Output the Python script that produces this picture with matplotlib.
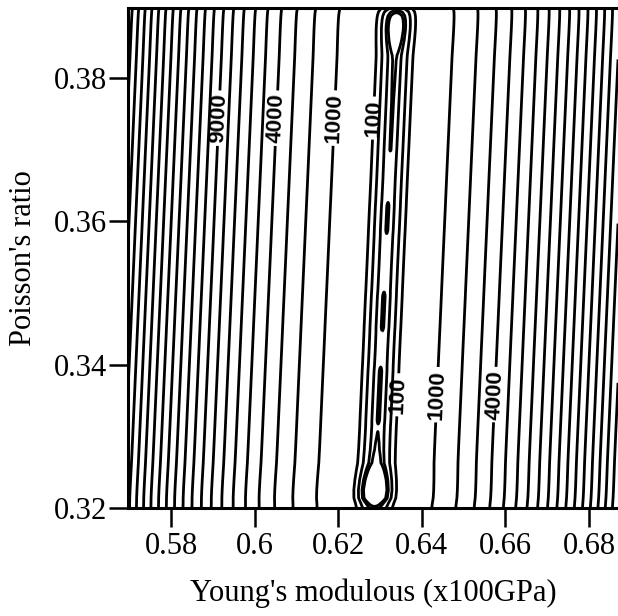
"""Contour map of the fitting error over Young's modulus and Poisson's ratio."""

# Section: Imports.
import numpy as np
import matplotlib
matplotlib.use("Agg")
import matplotlib.pyplot as plt


# Section: Values.
# Valley (minimum) position of the error surface at the bottom and top of the plot.
VALLEY_NU = [0.32, 0.39]
VALLEY_E = [0.62866, 0.63402]

# Error level along the valley floor (closed loops where it dips under 10).
FLOOR_NU = [0.32000, 0.32070, 0.32140, 0.32251, 0.32391, 0.32530, 0.32628, 0.32809,
            0.32991, 0.33144, 0.33228, 0.33912, 0.33995, 0.34200, 0.34442, 0.34526,
            0.34958, 0.35042, 0.35400, 0.35795, 0.35879, 0.36214, 0.36298, 0.36600,
            0.36967, 0.36995, 0.37693, 0.38251, 0.38321, 0.38391, 0.38530, 0.38670,
            0.38740, 0.38809, 0.38865, 0.38921, 0.38977]
FLOOR_ERR = [15, 0, -20, -25, -18, -5, 5, 8.5,
             9.8, 10.2, 9.6, 9.6, 10.2, 10.5, 10.2, 9.6,
             9.6, 10.2, 10.5, 10.2, 9.7, 9.7, 10.2, 10.5,
             10.1, 9.9, 9.75, 9.2, 8.5, 6, 0, -4,
             -4, -2, 2, 12, 40]

# Curvature of the error across the valley (per unit E squared) and its softening near the floor.
CURVATURE = 5.24e6
SOFTENING = 0.18
SOFT_WIDTH = 0.006

PLAIN_LEVELS = [10, 20, 50, 2000, 3000, 5000, 6000, 7000, 8000,
                10000, 11000, 12000, 13000, 14000, 15000, 16000, 17000,
                18000, 19000, 20000, 21000, 22000]
LABEL_LEVELS = [100, 1000, 4000, 9000]

X_TICKS = [0.58, 0.60, 0.62, 0.64, 0.66, 0.68]
X_TICK_LABELS = ["0.58", "0.6", "0.62", "0.64", "0.66", "0.68"]
Y_TICKS = [0.32, 0.34, 0.36, 0.38]
Y_TICK_LABELS = ["0.32", "0.34", "0.36", "0.38"]

X_LIMITS = (0.56971, 0.68694)
Y_LIMITS = (0.32, 0.38977)


# Section: Build the error surface on a fine grid.
def build_surface():
    e = np.linspace(X_LIMITS[0], X_LIMITS[1], 2000)
    nu = np.linspace(Y_LIMITS[0], Y_LIMITS[1], 1000)
    ee, nn = np.meshgrid(e, nu)
    centre = np.interp(nn, VALLEY_NU, VALLEY_E)
    floor = np.interp(nn, FLOOR_NU, FLOOR_ERR)
    d = ee - centre
    err = floor + CURVATURE * d ** 2 * (1 - SOFTENING * np.exp(-(d / SOFT_WIDTH) ** 2))
    return ee, nn, err


# Section: Draw the contour chart.
def main() -> None:
    plt.rcParams["font.family"] = ["Liberation Serif", "DejaVu Serif"]
    fig = plt.figure(figsize=(6.18, 6.16), dpi=100)
    ax = fig.add_axes([128 / 618, 1 - 508 / 616, 490 / 618, 500 / 616])

    ee, nn, err = build_surface()
    ax.contour(ee, nn, err, levels=PLAIN_LEVELS, colors="black", linewidths=2.0)
    cs = ax.contour(ee, nn, err, levels=LABEL_LEVELS, colors="black", linewidths=2.0)

    # label positions (E, nu)
    label_spots = [(0.59124, 0.3744), (0.60488, 0.3744), (0.61923, 0.3744), (0.62880, 0.3744),
                   (0.63407, 0.3358), (0.64388, 0.3358), (0.65847, 0.3358)]
    with plt.rc_context({"font.family": ["Liberation Sans", "DejaVu Sans"],
                         "font.weight": "bold"}):
        ax.clabel(cs, manual=label_spots, inline=True, inline_spacing=3, fmt="%d", fontsize=16)

    ax.set_xlim(*X_LIMITS)
    ax.set_ylim(*Y_LIMITS)
    ax.set_xticks(X_TICKS)
    ax.set_xticklabels(X_TICK_LABELS)
    ax.set_yticks(Y_TICKS)
    ax.set_yticklabels(Y_TICK_LABELS)
    ax.tick_params(axis="x", direction="out", length=14, width=1.8, pad=3, labelsize=22)
    ax.tick_params(axis="y", direction="out", length=14, width=1.8, pad=1, labelsize=22)

    ax.spines["right"].set_visible(False)
    for side in ("left", "bottom", "top"):
        ax.spines[side].set_linewidth(2.2)

    ax.set_xlabel("Young's modulous (x100GPa)", fontsize=22)
    ax.set_ylabel("Poisson's ratio", fontsize=22)
    ax.xaxis.set_label_coords(0.5, -0.14)
    ax.yaxis.set_label_coords(-0.183, 0.5)

    fig.savefig("out.png", dpi=100)
    plt.close(fig)


if __name__ == "__main__":
    main()
